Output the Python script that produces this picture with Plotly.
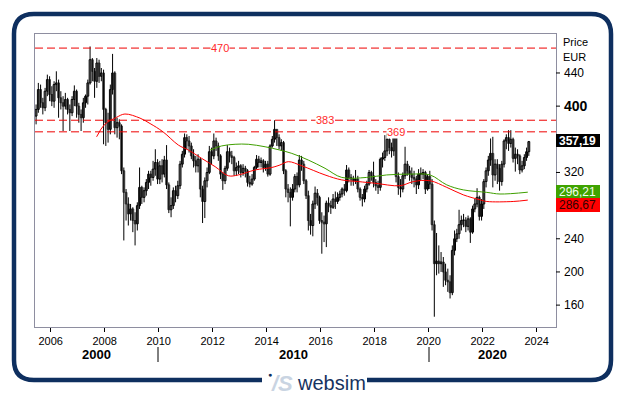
import plotly.graph_objects as go

# ---------------- data (monthly candles, Jun 2005 .. Sep 2023) ----------------
first_open = 388
c2005 = [396, 420, 404, 398, 418, 432, 414]
h2005 = [402, 428, 426, 410, 422, 438, 436]
l2005 = [378, 392, 398, 390, 394, 412, 406]
c2006 = [406, 426, 428, 410, 404, 400, 408, 396, 392, 408, 418, 400]
h2006 = [424, 430, 442, 432, 418, 412, 416, 410, 402, 412, 425, 420]
l2006 = [400, 398, 418, 386, 396, 370, 396, 390, 370, 388, 400, 386]
c2007 = [390, 386, 404, 412, 428, 456, 442, 430, 452, 436, 440, 396]
h2007 = [404, 396, 410, 414, 432, 472, 458, 446, 458, 456, 446, 444]
l2007 = [380, 370, 380, 398, 402, 426, 430, 410, 422, 428, 430, 354]
c2008 = [380, 372, 420, 440, 374, 380, 376, 322, 296, 282, 270, 276]
h2008 = [398, 392, 426, 463, 442, 386, 384, 378, 326, 300, 290, 282]
l2008 = [352, 356, 366, 414, 366, 362, 360, 318, 238, 262, 256, 262]
c2009 = [262, 258, 280, 302, 290, 298, 308, 318, 314, 324, 332, 312]
h2009 = [278, 272, 284, 326, 304, 302, 312, 322, 322, 334, 348, 336]
l2009 = [248, 232, 250, 276, 282, 284, 292, 300, 304, 310, 316, 306]
c2010 = [328, 318, 335, 305, 275, 280, 298, 292, 304, 330, 342, 362]
h2010 = [334, 336, 340, 353, 308, 290, 302, 304, 310, 334, 346, 367]
l2010 = [306, 308, 314, 300, 271, 266, 276, 284, 288, 300, 326, 338]
c2011 = [358, 352, 340, 334, 328, 336, 300, 285, 310, 320, 345, 340]
h2011 = [366, 364, 356, 348, 340, 342, 338, 304, 314, 326, 352, 350]
l2011 = [348, 344, 336, 326, 320, 320, 290, 259, 265, 302, 318, 330]
c2012 = [358, 352, 340, 318, 310, 325, 345, 340, 338, 322, 326, 328]
h2012 = [367, 362, 356, 342, 320, 328, 353, 350, 346, 340, 332, 334]
l2012 = [336, 346, 334, 312, 299, 306, 322, 332, 330, 316, 316, 318]
c2013 = [320, 325, 322, 308, 306, 312, 326, 336, 332, 334, 326, 330]
h2013 = [330, 330, 328, 324, 316, 318, 328, 341, 340, 338, 336, 334]
l2013 = [314, 316, 314, 303, 302, 304, 310, 324, 326, 326, 320, 322]
c2014 = [318, 352, 360, 372, 362, 352, 356, 322, 300, 296, 290, 300]
h2014 = [334, 354, 364, 383, 372, 366, 360, 358, 324, 306, 302, 306]
l2014 = [315, 316, 350, 356, 352, 348, 346, 318, 290, 284, 255, 286]
c2015 = [315, 305, 335, 330, 310, 292, 262, 256, 282, 295, 290, 262]
h2015 = [318, 320, 341, 340, 334, 312, 298, 270, 286, 303, 300, 292]
l2015 = [296, 296, 302, 322, 306, 288, 250, 245, 243, 276, 280, 258]
c2016 = [260, 258, 283, 280, 278, 288, 285, 290, 294, 300, 298, 323]
h2016 = [272, 268, 286, 290, 286, 294, 297, 296, 298, 302, 306, 329]
l2016 = [222, 236, 230, 272, 270, 276, 276, 282, 286, 290, 292, 296]
c2017 = [314, 312, 310, 312, 300, 290, 288, 300, 306, 320, 316, 308]
h2017 = [326, 318, 316, 323, 316, 302, 294, 304, 310, 323, 322, 333]
l2017 = [308, 304, 304, 306, 296, 286, 279, 284, 296, 304, 310, 302]
c2018 = [304, 302, 336, 338, 346, 360, 350, 346, 362, 315, 302, 300]
h2018 = [312, 310, 338, 344, 365, 367, 362, 356, 366, 362, 320, 312]
l2018 = [298, 294, 298, 326, 334, 340, 342, 338, 340, 308, 293, 290]
c2019 = [316, 330, 322, 318, 314, 312, 305, 318, 318, 320, 300, 315]
h2019 = [320, 351, 334, 328, 326, 322, 316, 324, 326, 324, 322, 318]
l2019 = [296, 312, 316, 310, 306, 302, 294, 300, 310, 312, 294, 298]
c2020 = [306, 257, 210, 213, 210, 212, 200, 190, 188, 175, 226, 240]
h2020 = [322, 312, 262, 247, 232, 224, 218, 210, 204, 196, 232, 250]
l2020 = [300, 250, 146, 196, 198, 200, 182, 184, 176, 168, 172, 220]
c2021 = [246, 257, 262, 262, 255, 264, 248, 276, 282, 290, 267, 282]
h2021 = [252, 275, 268, 270, 266, 268, 266, 280, 288, 301, 292, 288]
l2021 = [236, 240, 250, 254, 248, 250, 235, 246, 272, 278, 262, 262]
c2022 = [309, 322, 335, 343, 317, 330, 325, 309, 330, 358, 362, 355]
h2022 = [312, 326, 340, 361, 363, 336, 336, 330, 334, 360, 366, 371]
l2022 = [276, 302, 316, 328, 302, 310, 306, 298, 304, 326, 348, 346]
c2023 = [360, 337, 342, 340, 323, 328, 338, 345, 357.19]
h2023 = [371, 362, 350, 348, 342, 334, 342, 350, 358]
l2023 = [350, 332, 321, 330, 318, 320, 324, 334, 340]

# moving averages (decimal year, value)
red_years = [2007.70, 2008.00, 2008.44, 2008.75, 2009.31, 2009.68, 2010.16, 2010.73, 2011.10,
             2011.59, 2012.09, 2012.58, 2012.95, 2013.57, 2014.19, 2014.49, 2014.80, 2015.30,
             2016.16, 2016.78, 2017.39, 2018.01, 2018.94, 2019.43, 2020.05, 2020.67, 2021.28,
             2021.90, 2022.15, 2023.13, 2023.67]
red_vals = [363, 378, 386.5, 390.5, 385.5, 379, 369, 353, 347,
            337, 327, 316, 317, 323, 326, 329, 333, 328,
            317, 311, 309, 307, 304, 309, 310, 302, 293,
            287, 285, 285, 286.67]
green_years = [2011.90, 2012.33, 2012.83, 2013.32, 2013.94, 2014.49, 2014.93, 2015.54, 2016.16,
               2016.78, 2017.70, 2018.44, 2019.31, 2020.05, 2020.67, 2021.28, 2022.15, 2022.64,
               2023.67]
green_vals = [347, 352, 354, 354, 351, 347, 343, 335, 325,
              314, 314, 317, 318, 317, 305, 299, 296, 294,
              296.21]

hlines = [470, 383, 369]
hline_label_x = [2012.27, 2016.16, 2018.79]
y_ticks = [160, 200, 240, 320, 400, 440]
x_ticks = [2006, 2008, 2010, 2012, 2014, 2016, 2018, 2020, 2022, 2024]
decades = ["2000", "2010", "2020"]

closes = c2005 + c2006 + c2007 + c2008 + c2009 + c2010 + c2011 + c2012 + c2013 + c2014 + \
    c2015 + c2016 + c2017 + c2018 + c2019 + c2020 + c2021 + c2022 + c2023
highs = h2005 + h2006 + h2007 + h2008 + h2009 + h2010 + h2011 + h2012 + h2013 + h2014 + \
    h2015 + h2016 + h2017 + h2018 + h2019 + h2020 + h2021 + h2022 + h2023
lows = l2005 + l2006 + l2007 + l2008 + l2009 + l2010 + l2011 + l2012 + l2013 + l2014 + \
    l2015 + l2016 + l2017 + l2018 + l2019 + l2020 + l2021 + l2022 + l2023
opens = [first_open] + closes[:-1]
highs = [max(h, o, c) for h, o, c in zip(highs, opens, closes)]
lows = [min(l, o, c) for l, o, c in zip(lows, opens, closes)]
xs = [2005 + (5 + i + 0.5) / 12 for i in range(len(closes))]

# ---------------- geometry helpers (pixel -> paper) ----------------
L, R, T, B = 35, 556, 34, 327
W, H = 629, 395
def px(x):
    return (x - L) / (R - L)
def py(y):
    return (B - y) / (B - T)

FONT = "Liberation Sans, Arial, sans-serif"

fig = go.Figure()

# wicks
wx, wy = [], []
for x, hi, lo in zip(xs, highs, lows):
    wx += [x, x, None]
    wy += [lo, hi, None]
fig.add_trace(go.Scatter(x=wx, y=wy, mode="lines", line=dict(color="#000000", width=1),
                         showlegend=False, hoverinfo="skip"))
# bodies
up = [c >= o for o, c in zip(opens, closes)]
bases = [min(o, c) for o, c in zip(opens, closes)]
heights = [max(abs(c - o), 0.8) for o, c in zip(opens, closes)]
fig.add_trace(go.Bar(
    x=xs, y=heights, base=bases, width=0.068,
    marker=dict(color=["#ffffff" if u else "#6a6a6a" for u in up],
                line=dict(color=["#000000" if u else "#4a4a4a" for u in up], width=1)),
    showlegend=False, hoverinfo="skip"))

fig.add_trace(go.Scatter(x=red_years, y=red_vals, mode="lines",
                         line=dict(color="#ff0000", width=1, shape="spline"),
                         showlegend=False, hoverinfo="skip"))
fig.add_trace(go.Scatter(x=green_years, y=green_vals, mode="lines",
                         line=dict(color="#3f9f00", width=1, shape="spline"),
                         showlegend=False, hoverinfo="skip"))

shapes = []
for v in hlines:
    shapes.append(dict(type="line", xref="paper", x0=0, x1=1, yref="y", y0=v, y1=v,
                       line=dict(color="#ee0000", width=1, dash="8px,4px"), layer="above"))

annotations = []
for v, xl in zip(hlines, hline_label_x):
    annotations.append(dict(x=xl, y=v, xref="x", yref="y", text=str(v), showarrow=False,
                            font=dict(family=FONT, size=11, color="#ff2a2a"),
                            bgcolor="#ffffff", borderpad=0, xanchor="center", yanchor="middle"))

# y tick marks & labels (right side)
for v in y_ticks:
    shapes.append(dict(type="line", xref="paper", x0=px(556), x1=px(560), yref="y", y0=v, y1=v,
                       line=dict(color="#000000", width=1)))
    big = (v == 400)
    annotations.append(dict(x=px(562), y=v, xref="paper", yref="y",
                            text=("<b>%d</b>" % v) if big else str(v), showarrow=False,
                            font=dict(family=FONT, size=14 if big else 12, color="#000000"),
                            xanchor="left", yanchor="middle"))

annotations.append(dict(x=px(561), y=py(42), xref="paper", yref="paper", text="Price",
                        showarrow=False, font=dict(family=FONT, size=11, color="#000"),
                        xanchor="left", yanchor="middle"))
annotations.append(dict(x=px(561), y=py(57), xref="paper", yref="paper", text="EUR",
                        showarrow=False, font=dict(family=FONT, size=11, color="#000"),
                        xanchor="left", yanchor="middle"))

# value boxes
boxes = [(134, 147, "#000000", "<b>%s</b>" % f"{closes[-1]:.2f}".replace(".", ","), "#ffffff"),
         (185, 198, "#3fa300", f"{green_vals[-1]:.2f}".replace(".", ","), "#f4fff0"),
         (198, 212, "#ff0000", f"{red_vals[-1]:.2f}".replace(".", ","), "#300000")]
for y0, y1, col, txt, tcol in boxes:
    shapes.append(dict(type="rect", xref="paper", yref="paper", x0=px(556), x1=px(600),
                       y0=py(y1), y1=py(y0), fillcolor=col, line=dict(width=0)))
    annotations.append(dict(x=px(557), y=py((y0 + y1) / 2), xref="paper", yref="paper",
                            text=txt, showarrow=False,
                            font=dict(family=FONT, size=12, color=tcol),
                            xanchor="left", yanchor="middle"))

# decade labels and separators
for txt, xc in zip(decades, [96, 293, 492]):
    annotations.append(dict(x=px(xc), y=py(354), xref="paper", yref="paper", text="<b>%s</b>" % txt,
                            showarrow=False, font=dict(family=FONT, size=13, color="#000"),
                            xanchor="center", yanchor="middle"))
for xs_ in [158, 429]:
    shapes.append(dict(type="line", xref="paper", yref="paper", x0=px(xs_), x1=px(xs_),
                       y0=py(347), y1=py(362), line=dict(color="#000", width=1)))

# rounded frame with logo gap at bottom
r = 20
fx0, fy0, fx1, fy1 = 14, 14, 611, 380
pts = [
    ("M", 367, fy1), ("L", fx1 - r, fy1), ("Q", fx1, fy1, fx1, fy1 - r),
    ("L", fx1, fy0 + r), ("Q", fx1, fy0, fx1 - r, fy0),
    ("L", fx0 + r, fy0), ("Q", fx0, fy0, fx0, fy0 + r),
    ("L", fx0, fy1 - r), ("Q", fx0, fy1, fx0 + r, fy1), ("L", 262, fy1)]
path = ""
for p in pts:
    cmd = p[0]
    coords = p[1:]
    s = " ".join("%.5f,%.5f" % (px(coords[i]), py(coords[i + 1])) for i in range(0, len(coords), 2))
    path += "%s %s " % (cmd, s)
shapes.append(dict(type="path", xref="paper", yref="paper", path=path.strip(),
                   line=dict(color="#0e2f5f", width=4.5)))

# logo
annotations.append(dict(x=px(282), y=py(383), xref="paper", yref="paper",
                        text="<b><i>/S</i></b>", showarrow=False,
                        font=dict(family=FONT, size=22, color="#c9d4e2"),
                        xanchor="center", yanchor="middle"))
annotations.append(dict(x=px(270), y=py(374), xref="paper", yref="paper",
                        text="●", showarrow=False,
                        font=dict(family=FONT, size=7, color="#0e2f5f"),
                        xanchor="center", yanchor="middle"))
annotations.append(dict(x=px(331), y=py(383), xref="paper", yref="paper",
                        text="websim", showarrow=False,
                        font=dict(family=FONT, size=20, color="#17335f"),
                        xanchor="center", yanchor="middle"))

fig.update_layout(
    width=W, height=H,
    margin=dict(l=L, r=W - R, t=T, b=H - B),
    paper_bgcolor="#ffffff", plot_bgcolor="#ffffff",
    shapes=shapes, annotations=annotations,
    showlegend=False, barmode="overlay",
    font=dict(family=FONT, size=11, color="#000"),
    xaxis=dict(range=[2005.4185, 2024.715], tickvals=x_ticks,
               ticktext=[str(v) for v in x_ticks], ticks="outside", ticklen=4,
               tickcolor="#000", showgrid=False, zeroline=False,
               showline=True, linecolor="#8e8ea0", linewidth=1, mirror=True,
               tickfont=dict(family=FONT, size=11, color="#000")),
    yaxis=dict(range=[133.6, 487.0], showticklabels=False, ticks="", showgrid=False,
               zeroline=False, showline=True, linecolor="#8e8ea0", linewidth=1, mirror=True),
)

fig.write_html("out.html", config={"displayModeBar": False},
               post_script="document.body.style.margin='0px';document.body.style.padding='0px';")
